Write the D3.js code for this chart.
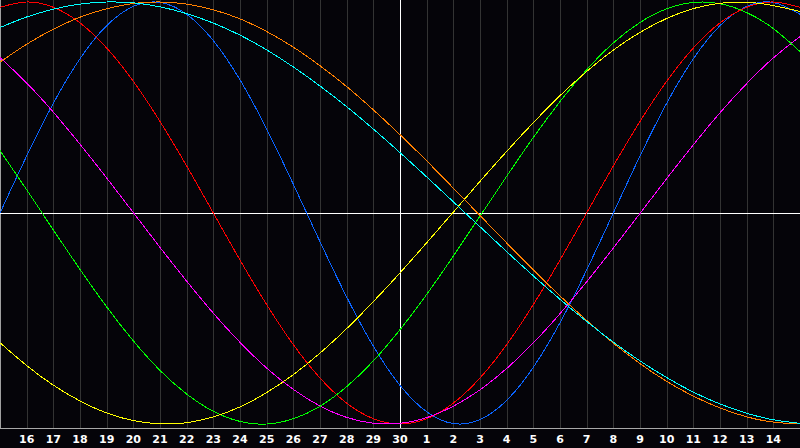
<!DOCTYPE html>
<html>
<head>
<meta charset="utf-8">
<script src="https://cdn.jsdelivr.net/npm/d3@7"></script>
<style>
html,body{margin:0;padding:0;background:#050409;}
svg{display:block;}
</style>
</head>
<body>
<svg id="chart" width="800" height="448"></svg>
<script>
// day labels (index 0 = day 15 of the previous month, unlabeled)
const dayLabels = ["15","16","17","18","19","20","21","22","23","24","25","26","27","28","29","30",
  "1","2","3","4","5","6","7","8","9","10","11","12","13","14","15"];
const todayIndex = 15;

// cycle values, one per day (index 0..30)
const physical = [0,0.270,0.520,0.731,0.888,0.979,0.998,0.942,0.817,0.631,0.398,0.136,-0.136,-0.398,-0.631,-0.817,-0.942,-0.998,-0.979,-0.888,-0.731,-0.520,-0.270,0,0.270,0.520,0.731,0.888,0.979,0.998,0.942];
const emotional = [0.975,1,0.975,0.901,0.782,0.624,0.434,0.223,0,-0.223,-0.434,-0.624,-0.782,-0.901,-0.975,-1,-0.975,-0.901,-0.782,-0.624,-0.434,-0.223,0,0.223,0.434,0.624,0.782,0.901,0.975,1,0.975];
const intellectual = [0.296,0.110,-0.080,-0.267,-0.445,-0.606,-0.746,-0.858,-0.940,-0.988,-1.000,-0.975,-0.916,-0.823,-0.701,-0.553,-0.386,-0.204,-0.015,0.174,0.358,0.528,0.679,0.806,0.903,0.968,0.998,0.992,0.950,0.874,0.765];
const intuitive = [0.737,0.616,0.478,0.326,0.166,0.002,-0.163,-0.323,-0.475,-0.613,-0.735,-0.836,-0.915,-0.969,-0.996,-0.997,-0.970,-0.916,-0.838,-0.737,-0.616,-0.477,-0.326,-0.166,-0.002,0.163,0.323,0.475,0.613,0.735,0.836];
const aesthetic = [-0.615,-0.723,-0.816,-0.891,-0.948,-0.984,-0.999,-0.994,-0.966,-0.919,-0.851,-0.766,-0.664,-0.548,-0.420,-0.284,-0.141,0.004,0.150,0.292,0.428,0.556,0.671,0.772,0.856,0.922,0.969,0.994,0.999,0.983,0.955];
const awareness = [0.715,0.800,0.871,0.928,0.968,0.993,1.000,0.990,0.963,0.920,0.860,0.786,0.698,0.599,0.489,0.371,0.247,0.118,-0.012,-0.142,-0.270,-0.393,-0.509,-0.617,-0.714,-0.798,-0.868,-0.924,-0.966,-0.991,-1.000];
const spiritual = [0.879,0.929,0.966,0.990,1.000,0.996,0.977,0.945,0.900,0.843,0.773,0.692,0.602,0.504,0.398,0.286,0.171,0.053,-0.065,-0.183,-0.298,-0.409,-0.514,-0.612,-0.701,-0.780,-0.849,-0.905,-0.949,-0.980,-0.997];

const seriesNames = ["physical","emotional","intuitive","intellectual","aesthetic","awareness","spiritual"];
const seriesValues = [physical, emotional, intuitive, intellectual, aesthetic, awareness, spiritual];
const seriesColors = ["#0a64ff","#ff0000","#ff00ff","#00ff00","#ffff00","#ff8000","#00ffff"];

const W = 800, H = 448, plotBottom = 428;
const svg = d3.select("#chart");
svg.append("rect").attr("width", W).attr("height", H).attr("fill", "#050409");

const x = d3.scaleLinear().domain([0, dayLabels.length - 1]).range([0, W]);
const y = d3.scaleLinear().domain([-1, 1]).range([424, 2]);

// vertical day grid
const gridIdx = d3.range(1, dayLabels.length - 1).filter(i => i !== todayIndex);
svg.append("g").selectAll("line").data(gridIdx).join("line")
  .attr("x1", d => Math.round(x(d)) + 0.5).attr("x2", d => Math.round(x(d)) + 0.5)
  .attr("y1", 0).attr("y2", plotBottom)
  .attr("stroke", "#333333").attr("stroke-width", 1).attr("shape-rendering", "crispEdges");

// frame: left and bottom axis lines
svg.append("line").attr("x1", 0.5).attr("x2", 0.5).attr("y1", 0).attr("y2", plotBottom)
  .attr("stroke", "#a0a0a0").attr("shape-rendering", "crispEdges");
svg.append("line").attr("x1", 0).attr("x2", W).attr("y1", plotBottom + 0.5).attr("y2", plotBottom + 0.5)
  .attr("stroke", "#a8a8a8").attr("shape-rendering", "crispEdges");

// center cross (today / zero)
svg.append("line").attr("x1", Math.round(x(todayIndex)) + 0.5).attr("x2", Math.round(x(todayIndex)) + 0.5)
  .attr("y1", 0).attr("y2", plotBottom)
  .attr("stroke", "#ffffff").attr("shape-rendering", "crispEdges");
svg.append("line").attr("x1", 0).attr("x2", W).attr("y1", Math.round(y(0)) + 0.5).attr("y2", Math.round(y(0)) + 0.5)
  .attr("stroke", "#ffffff").attr("shape-rendering", "crispEdges");

// curves
const line = d3.line().x((d, i) => x(i)).y(d => y(d)).curve(d3.curveNatural);
svg.append("g").selectAll("path").data(seriesValues).join("path")
  .attr("d", d => line(d))
  .attr("fill", "none")
  .attr("stroke", (d, i) => seriesColors[i])
  .attr("stroke-width", 1)
  .attr("shape-rendering", "crispEdges");

// day labels
const labelIdx = d3.range(1, dayLabels.length - 1);
svg.append("g").selectAll("text").data(labelIdx).join("text")
  .attr("x", d => x(d)).attr("y", 443)
  .attr("text-anchor", "middle")
  .attr("fill", "#ffffff")
  .attr("font-family", "DejaVu Sans, sans-serif")
  .attr("font-weight", "bold")
  .attr("font-size", 11)
  .text(d => dayLabels[d]);
</script>
</body>
</html>
